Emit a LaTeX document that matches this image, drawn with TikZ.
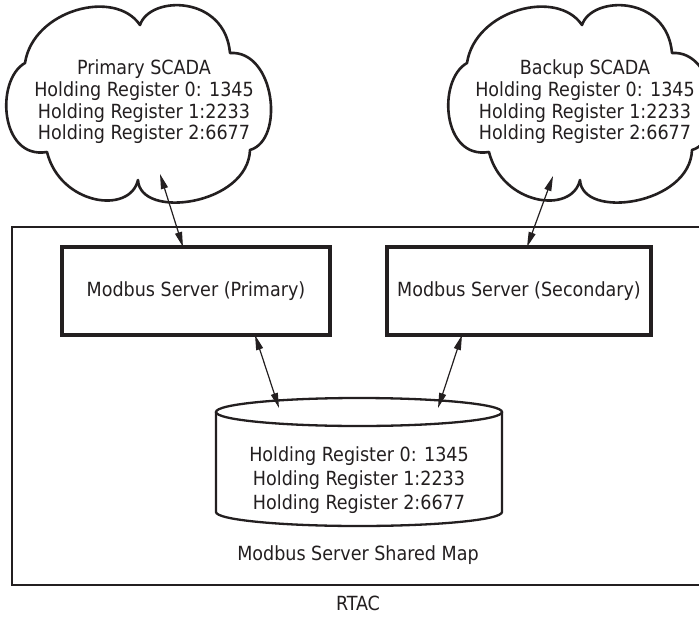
\documentclass[tikz,border=0pt]{standalone}
\usepackage{fontspec}
\setmainfont{DejaVu Sans Condensed}
\usetikzlibrary{arrows.meta}
\definecolor{ink}{HTML}{231F20}
\tikzset{
  cloudline/.style={draw=ink, line width=2.6pt, line join=round},
  cloudtext/.style={text=ink, align=center, font=\fontsize{19.5pt}{21.7pt}\selectfont},
  plaintext/.style={text=ink, font=\fontsize{19.5pt}{24pt}\selectfont},
  serverbox/.style={draw=ink, line width=3.2pt, minimum width=268pt, minimum height=88pt,
    inner sep=0pt, text=ink, font=\fontsize{19.5pt}{24pt}\selectfont},
  frame/.style={draw=ink, line width=2.3pt},
  link/.style={draw=ink, line width=1.2pt,
    {Triangle[length=15pt,width=7pt]}-{Triangle[length=15pt,width=7pt]}},
  % six-lobed cloud outline, drawn lobe by lobe
  pics/scadacloud/.style={code={
    \draw[cloudline] (25,63)
      .. controls (33,10) and (115,-12) .. (140,25)
      .. controls (150,-5) and (225,-5) .. (230,53)
      .. controls (275,50) and (285,140) .. (250,150)
      .. controls (248,205) and (140,220) .. (138,180)
      .. controls (130,215) and (60,205) .. (47,152)
      .. controls (0,160) and (-5,80) .. cycle;
  }}
}
\begin{document}
\begin{tikzpicture}[x=1pt,y=-1pt]
\useasboundingbox (0,0) rectangle (699,621);
\clip (0,0) rectangle (699,621);
\fill[white] (0,0) rectangle (699,621);

% SCADA clouds
\pic at (0,0) {scadacloud};
\pic at (442,0) {scadacloud};
\node[cloudtext] (pscada) at (144,102) {Primary SCADA\\Holding Register 0: 1345\\Holding Register 1:2233\\Holding Register 2:6677};
\node[cloudtext] (bscada) at (585,102) {Backup SCADA\\Holding Register 0: 1345\\Holding Register 1:2233\\Holding Register 2:6677};

% RTAC enclosure (runs past the right edge)
\node[frame, anchor=north west, minimum width=740pt, minimum height=358pt, inner sep=0pt] (rtac) at (11,226) {};
\node[plaintext] (rtaclabel) at (358,603) {RTAC};

% Modbus servers
\node[serverbox] (srvp) at (196,291) {Modbus Server (Primary)};
\node[serverbox, minimum width=264pt] (srvs) at (519,291) {Modbus Server (Secondary)};

% Shared map cylinder
\draw[frame] (359,412) ellipse [x radius=143pt, y radius=14pt];
\draw[frame] (216,412) -- (216,512) arc[start angle=180, end angle=360, x radius=143pt, y radius=14pt] -- (502,412);
\node[plaintext, align=center] (shared) at (359,480) {Holding Register 0: 1345\\Holding Register 1:2233\\Holding Register 2:6677};
\node[plaintext] (maplabel) at (358,555) {Modbus Server Shared Map};

% connector end points
\coordinate (pcloud) at (160,174);
\coordinate (bcloud) at (553,176);
\coordinate (srvptop) at (183,247);
\coordinate (srvstop) at (527,247);
\coordinate (srvpbot) at (255,335);
\coordinate (srvsbot) at (462,335);
\coordinate (mapl) at (279,408);
\coordinate (mapr) at (438,408);

\draw[link] (pcloud) -- (srvptop);
\draw[link] (bcloud) -- (srvstop);
\draw[link] (srvpbot) -- (mapl);
\draw[link] (srvsbot) -- (mapr);
\end{tikzpicture}
\end{document}
